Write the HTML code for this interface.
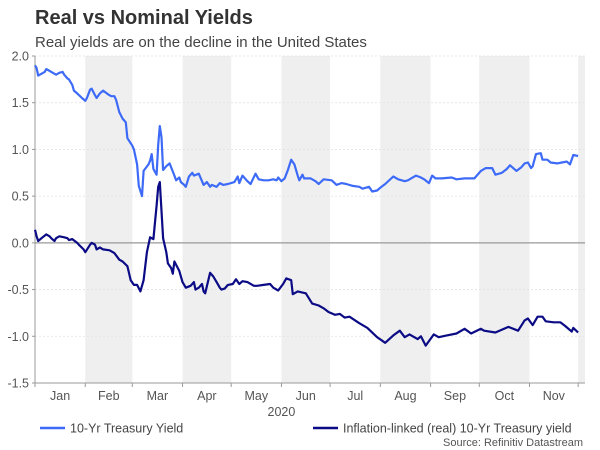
<!DOCTYPE html>
<html><head><meta charset="utf-8">
<style>
body{margin:0;background:#fff;}
svg{display:block;font-family:"Liberation Sans",Arial,sans-serif;}
</style></head>
<body>
<svg id="chart" width="600" height="450" viewBox="0 0 600 450">
<text x="35" y="24" font-size="20" font-weight="bold" fill="#333">Real vs Nominal Yields</text>
<text x="35" y="47" font-size="15" fill="#444">Real yields are on the decline in the United States</text>
<g id="bands"></g><g id="grid"></g><g id="axes"></g><g id="series"></g>
<g>
<line x1="40" y1="428" x2="65" y2="428" stroke="#3d6bf7" stroke-width="2.5"/>
<text x="70" y="432.5" font-size="12.5" fill="#444">10-Yr Treasury Yield</text>
<line x1="313" y1="428" x2="338" y2="428" stroke="#0b0b85" stroke-width="2.5"/>
<text x="343" y="432.5" font-size="12.5" fill="#444">Inflation-linked (real) 10-Yr Treasury yield</text>
</g>
<text x="583" y="446" font-size="11" fill="#555" text-anchor="end">Source: Refinitiv Datastream</text>
</svg>
<script>
const monthLabels = ["Jan","Feb","Mar","Apr","May","Jun","Jul","Aug","Sep","Oct","Nov"];
const monthStarts = [0,31,60,91,121,152,182,213,244,274,305,335];
const yTicks = [2.0,1.5,1.0,0.5,0.0,-0.5,-1.0,-1.5];
const yearLabel = "2020";
const nominalDays = [0,1,2,6,7,9,11,13,15,17,18,20,21,23,24,26,29,31,32,34,35,37,38,40,42,45,47,49,50,52,54,56,57,60,61,63,64,66,67,70,71,72,73,75,76,77,78,79,81,83,86,87,89,90,92,93,95,97,98,101,103,104,106,108,109,112,114,116,119,123,125,126,128,131,133,136,138,141,144,147,149,150,152,154,156,158,160,162,163,165,166,170,173,175,178,183,186,189,192,196,200,202,206,208,211,213,216,221,224,228,230,235,238,240,243,245,247,251,257,260,265,271,275,278,282,284,288,291,293,297,300,302,304,306,307,309,312,313,316,318,322,325,328,330,332,335];
const nominalValues = [1.90,1.87,1.79,1.83,1.86,1.84,1.82,1.80,1.82,1.83,1.80,1.76,1.75,1.69,1.63,1.60,1.55,1.52,1.55,1.64,1.65,1.58,1.55,1.60,1.63,1.59,1.57,1.57,1.53,1.40,1.33,1.29,1.12,1.04,1.00,0.84,0.61,0.50,0.77,0.84,0.88,0.95,0.79,0.73,1.05,1.25,1.13,0.78,0.82,0.85,0.72,0.67,0.70,0.65,0.62,0.60,0.71,0.75,0.72,0.74,0.66,0.62,0.65,0.60,0.62,0.60,0.64,0.62,0.63,0.65,0.71,0.64,0.72,0.66,0.63,0.74,0.68,0.67,0.67,0.68,0.67,0.70,0.66,0.69,0.78,0.89,0.84,0.72,0.67,0.73,0.69,0.69,0.66,0.63,0.68,0.67,0.62,0.64,0.63,0.61,0.60,0.58,0.60,0.55,0.56,0.59,0.63,0.71,0.68,0.66,0.67,0.72,0.70,0.68,0.64,0.72,0.69,0.69,0.70,0.68,0.69,0.69,0.77,0.80,0.80,0.73,0.75,0.79,0.83,0.77,0.81,0.85,0.86,0.80,0.82,0.95,0.96,0.89,0.89,0.86,0.85,0.86,0.87,0.84,0.94,0.93];
const realDays = [0,1,2,4,7,9,10,12,13,15,18,20,21,23,26,27,30,31,34,35,37,38,40,42,46,49,52,54,57,59,61,63,65,67,69,71,73,75,76,77,79,81,82,84,85,86,89,91,93,96,98,99,101,103,104,105,108,110,112,114,115,117,119,122,124,126,128,131,135,137,141,145,147,150,153,155,158,159,162,167,171,175,178,181,185,188,191,194,200,205,211,216,221,225,228,231,236,238,241,246,249,254,260,265,269,275,277,284,292,298,302,304,307,310,313,315,320,324,327,331,332,335];
const realValues = [0.14,0.07,0.02,0.05,0.09,0.07,0.05,0.02,0.05,0.07,0.06,0.05,0.03,0.04,0.0,-0.02,-0.07,-0.10,-0.02,0.0,-0.02,-0.07,-0.05,-0.07,-0.08,-0.11,-0.18,-0.20,-0.25,-0.40,-0.45,-0.45,-0.52,-0.40,-0.10,0.06,0.04,0.40,0.60,0.65,0.05,-0.10,-0.22,-0.27,-0.33,-0.20,-0.30,-0.42,-0.48,-0.46,-0.42,-0.50,-0.48,-0.44,-0.52,-0.54,-0.32,-0.36,-0.42,-0.48,-0.50,-0.49,-0.45,-0.44,-0.39,-0.44,-0.41,-0.42,-0.46,-0.46,-0.45,-0.44,-0.48,-0.51,-0.44,-0.38,-0.40,-0.55,-0.52,-0.54,-0.65,-0.67,-0.70,-0.74,-0.77,-0.76,-0.80,-0.79,-0.86,-0.91,-1.01,-1.07,-0.99,-0.94,-1.01,-0.98,-1.03,-1.00,-1.10,-0.98,-1.01,-0.99,-0.97,-0.92,-0.97,-0.92,-0.94,-0.96,-0.90,-0.94,-0.83,-0.81,-0.88,-0.79,-0.79,-0.84,-0.85,-0.85,-0.89,-0.95,-0.91,-0.96];

const NS="http://www.w3.org/2000/svg";
const X0=35,X1=583,D1=338,YT=56,YB=383,VMAX=2,VMIN=-1.5;
function xs(d){return X0+(d/D1)*(X1-X0);}
function ys(v){return YT+(VMAX-v)/(VMAX-VMIN)*(YB-YT);}
function mk(tag,attrs,parent){const e=document.createElementNS(NS,tag);for(const k in attrs)e.setAttribute(k,attrs[k]);parent.appendChild(e);return e;}
const bands=document.getElementById('bands'),grid=document.getElementById('grid'),axes=document.getElementById('axes'),series=document.getElementById('series');
for(let i=1;i<monthStarts.length;i+=2){
  const a=xs(monthStarts[i]);const b=i+1<monthStarts.length?xs(monthStarts[i+1]):X1+2;
  const r=mk('rect',{x:a,y:YT,width:b-a,height:YB-YT,fill:'#efefef'},bands);
  
  
}
yTicks.forEach(v=>{
  const y=ys(v);
  if(v!==VMIN){
    const l=mk('line',{x1:X0,x2:X1+2,y1:y,y2:y,stroke:v===0?'#999':'#e2e2e2','stroke-width':v===0?1.2:0.8,'stroke-dasharray':v===0?'':'2,2'},grid);
    
    
  }
  const t=mk('text',{x:X0-6,y:y+4.5,'font-size':12.5,fill:'#555','text-anchor':'end'},axes);
  t.textContent=v.toFixed(1);
  
  
  const tk=mk('line',{x1:X0-3,x2:X0,y1:y,y2:y,stroke:'#999'},axes);
  
  
});
const ya=mk('line',{x1:X0,x2:X0,y1:YT,y2:YB,stroke:'#999'},axes);


const xa=mk('line',{x1:X0,x2:X1+2,y1:YB,y2:YB,stroke:'#999'},axes);


monthStarts.forEach((d,i)=>{
  const tk=mk('line',{x1:xs(d),x2:xs(d),y1:YB,y2:YB+4,stroke:'#999'},axes);
  
  
  if(i<monthLabels.length){
    const t=mk('text',{x:(xs(d)+xs(monthStarts[i+1]))/2,y:YB+17,'font-size':12.5,fill:'#555','text-anchor':'middle'},axes);
    t.textContent=monthLabels[i];
    
    
  }
});
const yr=mk('text',{x:xs(monthStarts[5]),y:YB+33,'font-size':12.5,fill:'#555','text-anchor':'middle'},axes);
yr.textContent=yearLabel;


function line(days,vals,color,name){
  const d=days.map((dd,i)=>(i?'L':'M')+xs(dd).toFixed(1)+','+ys(vals[i]).toFixed(1)).join('');
  const p=mk('path',{d:d,fill:'none',stroke:color,'stroke-width':2.2,'stroke-linejoin':'round'},series);
  
  
}
line(nominalDays,nominalValues,'#3d6bf7','nominal-yield-line');
line(realDays,realValues,'#0b0b85','real-yield-line');
</script>
</body></html>
